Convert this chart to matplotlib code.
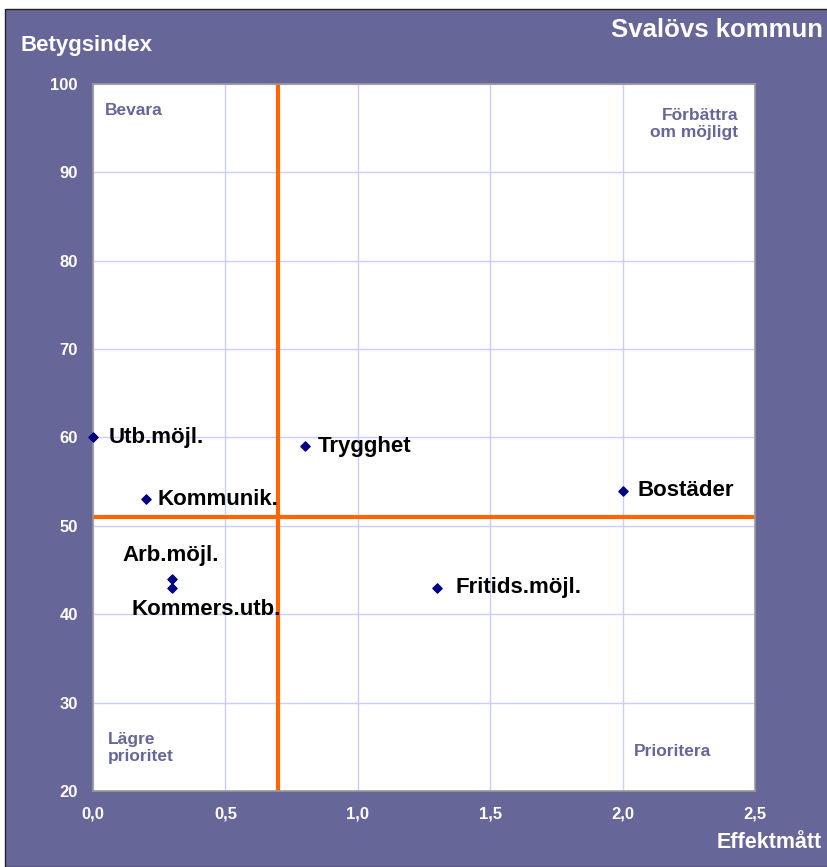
import matplotlib
matplotlib.use("Agg")
import matplotlib.pyplot as plt
from matplotlib.patches import Rectangle

# Data
names = ["Utb.möjl.", "Kommunik.", "Arb.möjl.", "Kommers.utb.", "Trygghet", "Fritids.möjl.", "Bostäder"]
effekt = [0.0, 0.2, 0.3, 0.3, 0.8, 1.3, 2.0]
betyg = [60, 53, 44, 43, 59, 43, 54]
x_ticks = [0.0, 0.5, 1.0, 1.5, 2.0, 2.5]
x_tick_labels = ["0,0", "0,5", "1,0", "1,5", "2,0", "2,5"]
y_ticks = [20, 30, 40, 50, 60, 70, 80, 90, 100]
x_split = 0.7
y_split = 51

plt.rcParams['font.family'] = ['Liberation Sans', 'DejaVu Sans']
PURPLE = "#666699"

W, H = 827, 867
fig = plt.figure(figsize=(W / 100, H / 100), dpi=100, facecolor="white")
fig.patches.append(Rectangle((5 / W, 0), 1, 1 - 9 / H, transform=fig.transFigure,
                             facecolor=PURPLE, edgecolor="#222222", linewidth=1, zorder=-10))

ax = fig.add_axes([93 / W, 1 - 791 / H, (755 - 93) / W, (791 - 84) / H])
ax.set_facecolor("white")
ax.set_xlim(0, 2.5)
ax.set_ylim(20, 100)
ax.set_xticks(x_ticks)
ax.set_xticklabels(x_tick_labels)
ax.set_yticks(y_ticks)
ax.grid(True, color="#ccccff", linewidth=1)
ax.set_axisbelow(True)
for s in ax.spines.values():
    s.set_color("#999999")
    s.set_linewidth(1.2)
ax.tick_params(axis="both", colors="white", labelsize=12, length=0, pad=11)
ax.tick_params(axis="y", pad=11)
for lab in ax.get_xticklabels() + ax.get_yticklabels():
    lab.set_fontweight("bold")
    lab.set_color("white")

ax.axvline(x_split, color="#ff6600", linewidth=3, zorder=2)
ax.axhline(y_split, color="#ff6600", linewidth=3, zorder=2)

ax.scatter(effekt, betyg, marker="D", s=22, color="#000080", zorder=4, clip_on=False)

offsets = {
    "Utb.möjl.": ((11, 0), "left", "center"),
    "Kommunik.": ((8.5, 0), "left", "center"),
    "Arb.möjl.": ((-1, 16.5), "center", "center"),
    "Kommers.utb.": ((24.5, -16), "center", "center"),
    "Trygghet": ((9.4, 0), "left", "center"),
    "Fritids.möjl.": ((13, 0), "left", "center"),
    "Bostäder": ((11, 0), "left", "center"),
}
for n, x, y in zip(names, effekt, betyg):
    off, ha, va = offsets[n]
    ax.annotate(n, (x, y), xytext=off, textcoords="offset points", ha=ha, va=va,
                fontsize=16, fontweight="bold", color="black", zorder=5)

qkw = dict(fontsize=12.5, fontweight="bold", color=PURPLE, transform=ax.transAxes, linespacing=1.1)
ax.text(12 / 662, 1 - 27 / 707, "Bevara", ha="left", va="center", **qkw)
ax.text(1 - 17 / 662, 1 - 40 / 707, "Förbättra\nom möjligt", ha="right", va="center", **qkw)
ax.text(15 / 662, 1 - 664 / 707, "Lägre\nprioritet", ha="left", va="center", **qkw)
ax.text(541 / 662, 1 - 668 / 707, "Prioritera", ha="left", va="center", **qkw)

fig.text(20 / W, 1 - 46 / H, "Betygsindex", ha="left", va="center", fontsize=16,
         fontweight="bold", color="white")
fig.text(822 / W, 1 - 843 / H, "Effektmått", ha="right", va="center", fontsize=15.5,
         fontweight="bold", color="white")
fig.text(823 / W, 1 - 30 / H, "Svalövs kommun", ha="right", va="center", fontsize=18.5,
         fontweight="bold", color="white")

fig.savefig("out.png", dpi=100, facecolor=fig.get_facecolor())
